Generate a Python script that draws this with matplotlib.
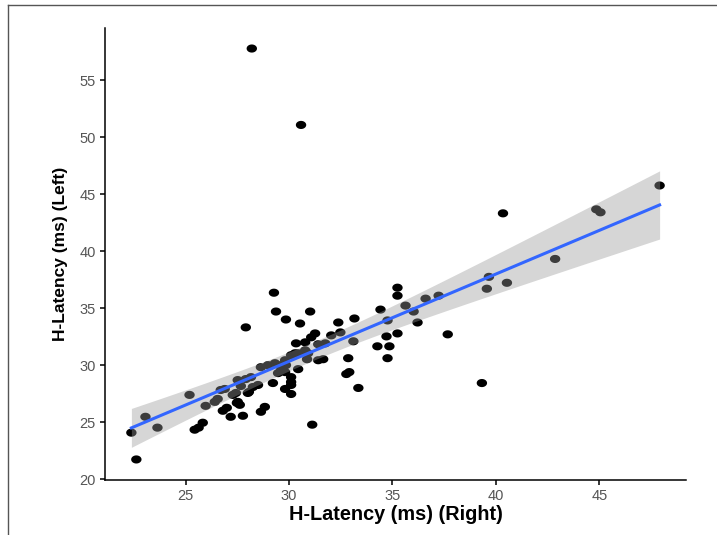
import numpy as np
import matplotlib
matplotlib.use("Agg")
import matplotlib.pyplot as plt
from matplotlib.lines import Line2D
from matplotlib.path import Path

# H-Latency (ms) right side
right_ms = [28.20, 30.58, 47.91, 44.85, 45.05, 40.34, 42.86, 39.66, 40.53, 39.56,
            39.32, 37.67, 37.23, 36.60, 35.24, 35.24, 35.63, 36.02, 36.21, 34.42,
            34.76, 35.24, 34.71, 34.27, 34.85, 34.76, 33.11, 33.16, 32.38, 32.48,
            31.02, 32.86, 32.91, 32.77, 33.35, 32.04, 31.26, 31.07, 30.78, 30.53,
            31.41, 31.75, 31.65, 31.41, 30.87, 30.78, 30.44, 31.12, 29.27, 29.37,
            29.85, 27.91, 30.34, 29.22, 30.10, 30.10, 29.81, 30.10, 28.83, 28.64,
            28.64, 28.98, 29.32, 29.47, 29.81, 30.10, 27.52, 27.91, 28.01, 28.25,
            28.50, 29.61, 27.52, 27.62, 26.99, 26.80, 27.18, 27.77, 25.83, 25.63,
            25.44, 22.38, 23.06, 23.64, 22.62, 25.19, 25.97, 26.41, 26.55, 26.70,
            26.89, 27.28, 27.43, 27.48, 27.67, 28.06, 30.10, 29.61, 29.85, 30.29,
            30.92, 29.81, 28.16, 30.44]
# H-Latency (ms) left side
left_ms = [57.77, 51.07, 45.76, 43.67, 43.41, 43.32, 39.32, 37.75, 37.23, 36.71,
           28.44, 32.71, 36.10, 35.84, 36.80, 36.10, 35.23, 34.71, 33.75, 34.88,
           33.93, 32.79, 32.53, 31.66, 31.66, 30.62, 32.10, 34.10, 33.75, 32.88,
           34.71, 30.62, 29.40, 29.23, 28.01, 32.62, 32.79, 32.45, 32.01, 33.66,
           31.84, 31.92, 30.53, 30.44, 30.53, 31.31, 31.05, 24.79, 36.36, 34.71,
           34.01, 33.32, 31.92, 28.44, 28.96, 28.27, 27.92, 27.48, 26.35, 25.92,
           29.83, 30.01, 30.18, 29.31, 29.40, 30.88, 28.70, 28.79, 27.57, 28.09,
           28.27, 29.57, 26.79, 26.53, 26.27, 26.01, 25.48, 25.57, 24.96, 24.53,
           24.35, 24.09, 25.48, 24.53, 21.74, 27.40, 26.44, 26.79, 27.05, 27.83,
           27.92, 27.40, 27.57, 26.70, 28.18, 27.66, 28.53, 30.01, 30.01, 31.05,
           31.05, 30.44, 28.96, 29.66]

x_ticks = [25, 30, 35, 40, 45]
y_ticks = [20, 25, 30, 35, 40, 45, 50, 55]
x_label = "H-Latency (ms) (Right)"
y_label = "H-Latency (ms) (Left)"

x = np.array(right_ms)
y = np.array(left_ms)

# linear fit with 95% confidence band (like geom_smooth(method = "lm"))
n = len(x)
slope, intercept = np.polyfit(x, y, 1)
xs = np.linspace(x.min(), x.max(), 80)
ys = intercept + slope * xs
resid = y - (intercept + slope * x)
s = np.sqrt(np.sum(resid ** 2) / (n - 2))
sxx = np.sum((x - x.mean()) ** 2)
t_crit = 1.985
se = s * np.sqrt(1.0 / n + (xs - x.mean()) ** 2 / sxx)

plt.rcParams['font.family'] = ['Liberation Sans', 'DejaVu Sans']

# slightly wide elliptical dot (reference image is horizontally stretched)
theta = np.linspace(0, 2 * np.pi, 40)
ell = Path(np.column_stack([1.15 * np.cos(theta), 0.9 * np.sin(theta)]), closed=True)

fig = plt.figure(figsize=(7.17, 5.35), dpi=100)
ax = fig.add_axes([0.1464, 0.1028, 0.8104, 0.8449])

ax.scatter(x, y, s=56, marker=ell, color="black", edgecolors="none", zorder=2)
ax.fill_between(xs, ys - t_crit * se, ys + t_crit * se, color="#999999",
                alpha=0.4, linewidth=0, zorder=3)
ax.plot(xs, ys, color="#3366FF", lw=2.2, zorder=4)

xr = x.max() - x.min()
yr = y.max() - y.min()
ax.set_xlim(x.min() - 0.05 * xr, x.max() + 0.05 * xr)
ax.set_ylim(y.min() - 0.05 * yr, y.max() + 0.05 * yr)

ax.set_xticks(x_ticks)
ax.set_yticks(y_ticks)
for sp in ["top", "right"]:
    ax.spines[sp].set_visible(False)
for sp in ["left", "bottom"]:
    ax.spines[sp].set_linewidth(1.1)
    ax.spines[sp].set_color("black")
ax.tick_params(axis="both", length=3.5, width=1.1, color="black",
               labelcolor="#555555", labelsize=10.5, pad=3)

ax.set_xlabel(x_label, fontsize=14.3, fontweight="bold", labelpad=1.5)
ax.set_ylabel(y_label, fontsize=12.5, fontweight="bold", labelpad=8)

# thin frame lines on top and left of the image
fig.add_artist(Line2D([8 / 717, 1.0], [1 - 5 / 535, 1 - 5 / 535],
                      transform=fig.transFigure, color="#555555", lw=1))
fig.add_artist(Line2D([8 / 717, 8 / 717], [0.0, 1 - 5 / 535],
                      transform=fig.transFigure, color="#555555", lw=1))

fig.savefig("out.png", dpi=100)
